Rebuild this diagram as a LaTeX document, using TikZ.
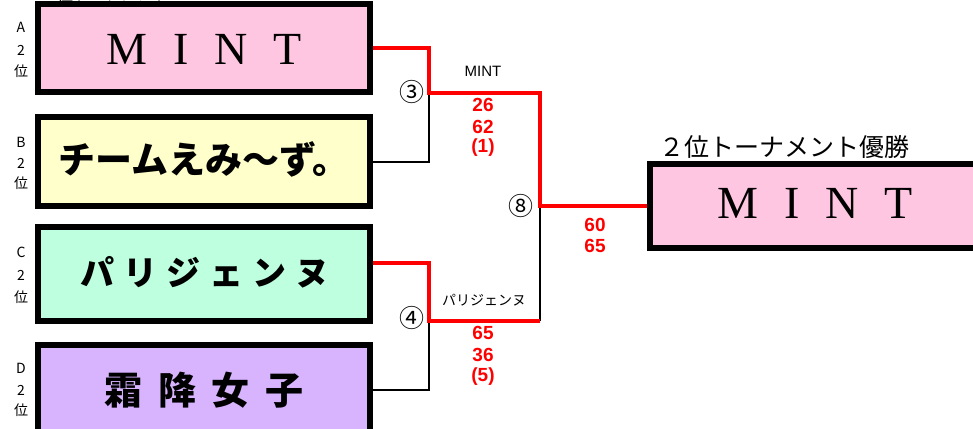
\documentclass[tikz,border=0pt]{standalone}
\usepackage{fontspec}
\setmainfont{Liberation Serif}
\newfontfamily\jp{Noto Sans CJK JP}
\newfontfamily\lsans{Liberation Sans}
\definecolor{pinkA}{RGB}{255,198,226}
\definecolor{yelB}{RGB}{255,255,204}
\definecolor{grnC}{RGB}{190,255,224}
\definecolor{purD}{RGB}{216,180,255}
\definecolor{redL}{RGB}{255,0,0}
\begin{document}
\begin{tikzpicture}[x=1pt,y=-1pt,
  team/.style={draw=black,line width=4pt,rectangle,inner sep=0pt,minimum width=330pt},
  redline/.style={draw=redL,line width=4pt},
  blkline/.style={draw=black,line width=2pt},
  side/.style={font=\jp\fontsize{14}{14}\selectfont,inner sep=0pt},
  score/.style={font=\lsans\bfseries\fontsize{19}{19}\selectfont,text=redL,inner sep=0pt},
  winner/.style={font=\jp\fontsize{14}{14}\selectfont,inner sep=0pt},
  circ/.style={font=\jp\fontsize{25}{25}\selectfont,inner sep=0pt}]
\useasboundingbox (0,0) rectangle (973,428);
\fill[white] (0,0) rectangle (973,428);

% header cut off at top
\node[anchor=base west,inner sep=0pt,font=\jp\fontsize{16}{16}\selectfont] (hdr) at (41,1) {２位トーナメント};

% junction coordinates
\coordinate (m3) at (429,93);
\coordinate (m4) at (429,321);
\coordinate (m3r) at (540,93);
\coordinate (m4r) at (540,321);
\coordinate (m8) at (540,206);

% boxes
\node[team,fill=pinkA,minimum height=86pt] (A) at (204,48) {};
\node[team,fill=yelB,minimum height=87pt] (B) at (204,161.5) {};
\node[team,fill=grnC,minimum height=92pt] (C) at (204,274) {};
\node[team,fill=purD,minimum height=88pt] (D) at (204,390) {};
\node[team,fill=pinkA,minimum height=82pt] (F) at (816,206) {};

% connectors (black first)
\draw[blkline] (B.east) -| (m3);
\draw[blkline] (D.east) -| (m4);
\draw[blkline] (m4r) -- (m8);
\draw[redline] (A.east) -| (m3) -- (m3r) -- (m8) -- (F.west);
\draw[redline] ([yshift=11pt]C.east) -| (m4) -- (m4r);

% redraw box borders on top of line ends
\draw[line width=4pt] (A.north west) rectangle (A.south east);
\draw[line width=4pt] (B.north west) rectangle (B.south east);
\draw[line width=4pt] (C.north west) rectangle (C.south east);
\draw[line width=4pt] (D.north west) rectangle (D.south east);
\draw[line width=4pt] (F.north west) rectangle (F.south east);

% team names
\node[inner sep=0pt,font=\fontsize{46}{46}\selectfont] (tA) at (204,49) {M\hspace{26pt}I\hspace{26pt}N\hspace{26pt}T};
\node[inner sep=0pt,font=\jp\bfseries\fontsize{37}{37}\selectfont] (tB) at (204,159) {チームえみ～ず。};
\node[inner sep=0pt,font=\jp\bfseries\fontsize{34}{34}\selectfont] (tC) at (205,272) {パ\hspace{9pt}リ\hspace{9pt}ジ\hspace{9pt}ェ\hspace{9pt}ン\hspace{9pt}ヌ};
\node[inner sep=0pt,font=\jp\bfseries\fontsize{38}{38}\selectfont] (tD) at (204,390) {霜\hspace{16pt}降\hspace{16pt}女\hspace{16pt}子};
\node[inner sep=0pt,font=\fontsize{46}{46}\selectfont] (tF) at (815,203) {M\hspace{26pt}I\hspace{26pt}N\hspace{26pt}T};

% side labels
\node[side] (sA1) at (21,27) {A};
\node[side] (sA2) at (21,50) {2};
\node[side] (sA3) at (21,71) {位};
\node[side] (sB1) at (21,142) {B};
\node[side] (sB2) at (21,163) {2};
\node[side] (sB3) at (21,183) {位};
\node[side] (sC1) at (21,252) {C};
\node[side] (sC2) at (21,275) {2};
\node[side] (sC3) at (21,297) {位};
\node[side] (sD1) at (21,368) {D};
\node[side] (sD2) at (21,390) {2};
\node[side] (sD3) at (21,410) {位};

% circled match numbers
\node[circ] (c3) at (412,92) {③};
\node[circ] (c4) at (412,318) {④};
\node[circ] (c8) at (521,206) {⑧};

% winners and scores
\node[winner,font=\lsans\fontsize{15}{15}\selectfont] (w3) at (483,71) {MINT};
\node[score] (s31) at (483,105) {26};
\node[score] (s32) at (483,127) {62};
\node[score] (s33) at (483,148) {(1)};
\node[winner] (w4) at (484,300) {パリジェンヌ};
\node[score] (s41) at (483,333) {65};
\node[score] (s42) at (483,355) {36};
\node[score] (s43) at (483,377) {(5)};
\node[score] (s81) at (595,225) {60};
\node[score] (s82) at (595,246) {65};

% final title
\node[inner sep=0pt,anchor=west,font=\jp\fontsize{25}{25}\selectfont] (title) at (659,147) {２位トーナメント優勝};
\end{tikzpicture}
\end{document}
